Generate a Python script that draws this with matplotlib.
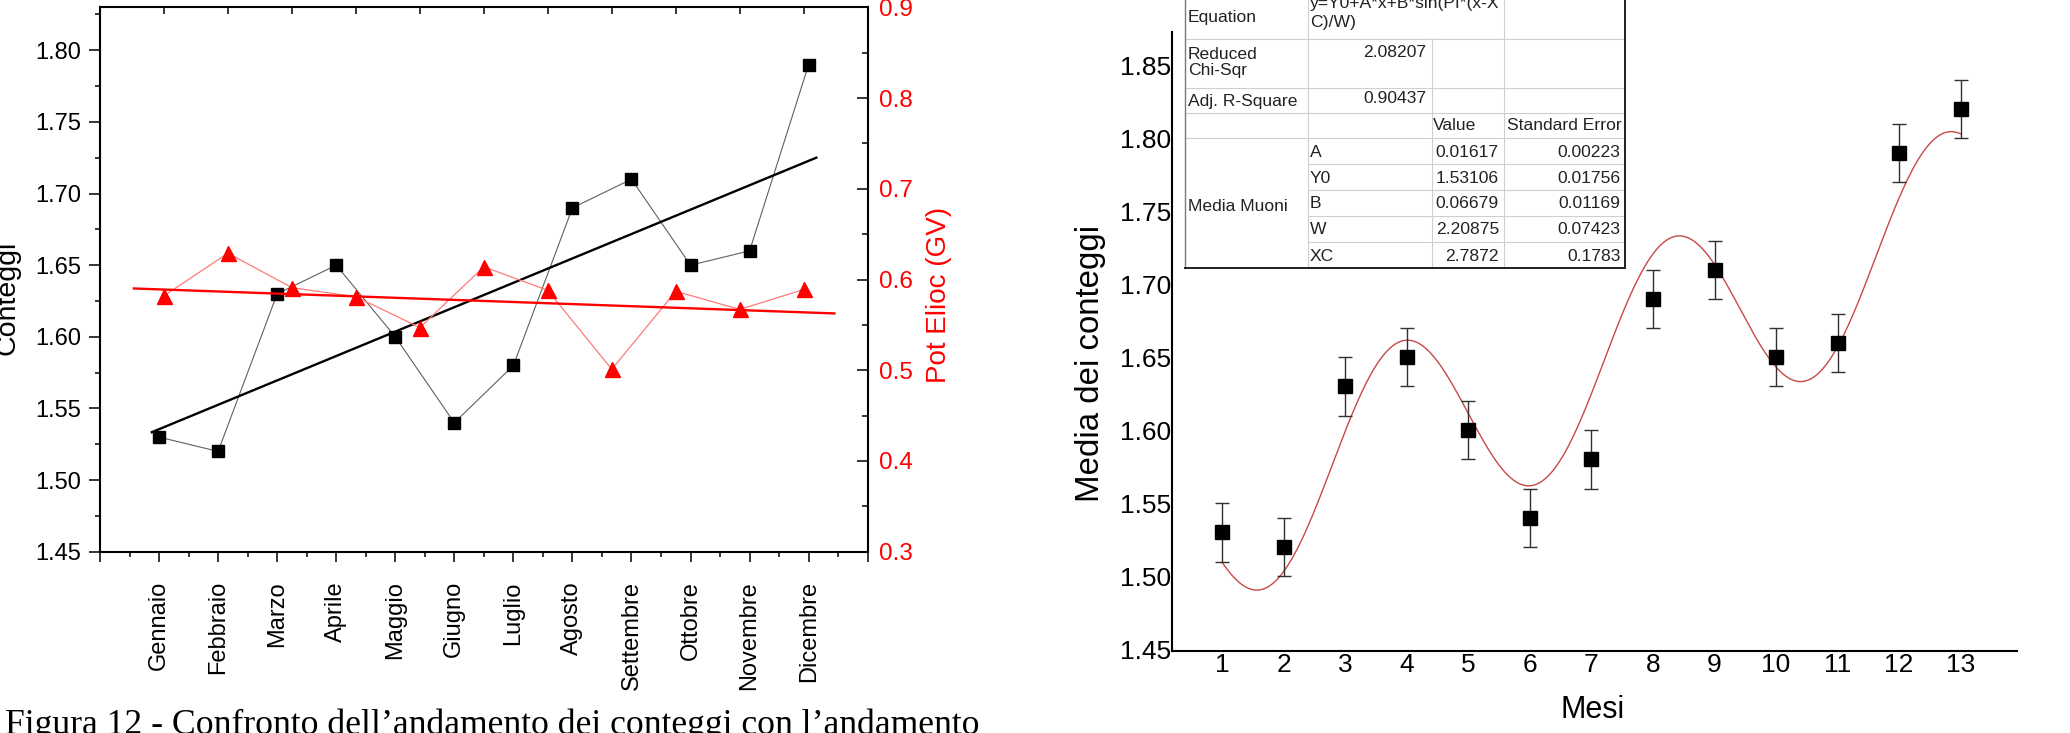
import numpy as np
import matplotlib
matplotlib.use("Agg")
import matplotlib.pyplot as plt
from matplotlib.lines import Line2D
from matplotlib.patches import Rectangle
from matplotlib.ticker import MultipleLocator, FormatStrFormatter

# ---------------- data ----------------
mesi = ['Gennaio', 'Febbraio', 'Marzo', 'Aprile', 'Maggio', 'Giugno', 'Luglio',
        'Agosto', 'Settembre', 'Ottobre', 'Novembre', 'Dicembre']
conteggi = [1.53, 1.52, 1.63, 1.65, 1.60, 1.54, 1.58, 1.69, 1.71, 1.65, 1.66, 1.79]
cont_fit_x = [0.877, 12.13]

pot_elioc = [0.582, 0.629, 0.591, 0.581, 0.547, 0.614, 0.588, 0.501, 0.587, 0.567, 0.589]
pot_fit_x = [0.53, 11.48]
pot_fit_y = [0.5901, 0.5626]

mesi_num = list(range(1, 14))
media = [1.53, 1.52, 1.63, 1.65, 1.60, 1.54, 1.58, 1.69, 1.71, 1.65, 1.66, 1.79, 1.82]
media_err = [0.02] * 13

fit_names = ['A', 'Y0', 'B', 'W', 'XC']
fit_values = [0.01617, 1.53106, 0.06679, 2.20875, 2.7872]
fit_value_text = ['0.01617', '1.53106', '0.06679', '2.20875', '2.7872']
fit_error_text = ['0.00223', '0.01756', '0.01169', '0.07423', '0.1783']
chi_sqr = '2.08207'
adj_r2 = '0.90437'
equation_lines = ['y=Y0+A*x+B*sin(PI*(x-X', 'C)/W)']

caption = 'Figura 12 - Confronto dell\u2019andamento dei conteggi con l\u2019andamento'

# ---------------- figure ----------------
W, H = 2070, 733
plt.rcParams['font.family'] = ['Liberation Sans', 'DejaVu Sans']
fig = plt.figure(figsize=(W / 100, H / 100), dpi=100)
fig.patch.set_facecolor('white')


def fx(px):
    return px / W


def fy(py):
    return 1 - py / H


def rect(x0, y0, x1, y1):
    return [x0 / W, 1 - y1 / H, (x1 - x0) / W, (y1 - y0) / H]


# ================= left chart =================
r_left = rect(100, 7.3, 867.7, 551.7)
ax = fig.add_axes(r_left)
ax.set_xlim(0, 13)
ax.set_ylim(1.45, 1.83)
xm = np.arange(1, len(conteggi) + 1)
ax.plot(xm, conteggi, color='#606060', lw=0.8, zorder=2)
ax.plot(xm, conteggi, ls='none', marker='s', ms=8.8, mfc='black', mec='black', zorder=3)
slope, intercept = np.polyfit(xm, conteggi, 1)
fxs = np.array(cont_fit_x)
ax.plot(fxs, slope * fxs + intercept, color='black', lw=1.7, zorder=2.5)

ax.set_xticks(range(0, 14))
ax.set_xticklabels([''] + mesi + [''], rotation=90)
ax.set_xticks(np.arange(0.5, 13, 1), minor=True)
ax.yaxis.set_major_locator(MultipleLocator(0.05))
ax.yaxis.set_minor_locator(MultipleLocator(0.025))
ax.yaxis.set_major_formatter(FormatStrFormatter('%.2f'))
ax.tick_params(axis='x', which='major', direction='out', length=7.2, width=1.1,
               pad=14, labelsize=17)
ax.tick_params(axis='x', which='minor', direction='out', length=3.3, width=1.1)
ax.tick_params(axis='y', which='major', direction='out', length=7.6, width=1.1,
               pad=6, labelsize=17)
ax.tick_params(axis='y', which='minor', direction='out', length=3.8, width=1.1)
for s in ax.spines.values():
    s.set_linewidth(1.5)

ax2 = fig.add_axes(r_left, label='pot')
ax2.patch.set_visible(False)
for s in ax2.spines.values():
    s.set_visible(False)
ax2.set_xlim(0, 12)
ax2.set_ylim(0.3, 0.9)
xr = np.arange(1, len(pot_elioc) + 1)
ax2.plot(xr, pot_elioc, color='#ff7a7a', lw=0.9, zorder=2)
ax2.plot(xr, pot_elioc, ls='none', marker='^', ms=10.8, mfc='red', mec='red', zorder=3)
ax2.plot(pot_fit_x, pot_fit_y, color='red', lw=1.7, zorder=2.5)
ax2.xaxis.tick_top()
ax2.set_xticks(range(1, 12))
ax2.set_xticklabels([])
ax2.yaxis.tick_right()
ax2.yaxis.set_major_locator(MultipleLocator(0.1))
ax2.yaxis.set_minor_locator(MultipleLocator(0.05))
ax2.yaxis.set_major_formatter(FormatStrFormatter('%.1f'))
ax2.tick_params(axis='x', which='major', direction='in', length=5, width=1.1)
ax2.tick_params(axis='y', which='major', direction='in', length=8, width=1.1,
                pad=8.4, labelsize=17.5, labelcolor='red')
ax2.tick_params(axis='y', which='minor', direction='in', length=4.3, width=1.1)

fig.text(fx(15), fy(298), 'Conteggi', rotation=90, rotation_mode='anchor',
         ha='center', va='baseline', fontsize=20.5)
fig.text(fx(946), fy(295), 'Pot Elioc (GV)', rotation=90, rotation_mode='anchor',
         ha='center', va='baseline', fontsize=20, color='red')

# ================= right chart =================
ax3 = fig.add_axes(rect(1172, 31.8, 2016.7, 650.7))
ax3.set_xlim(0.185, 13.91)
ax3.set_ylim(1.449, 1.873)
ax3.spines['top'].set_visible(False)
ax3.spines['right'].set_visible(False)
ax3.spines['left'].set_linewidth(1.5)
ax3.spines['bottom'].set_linewidth(1.5)
ax3.set_xticks(mesi_num)
ax3.yaxis.set_major_locator(MultipleLocator(0.05))
ax3.yaxis.set_major_formatter(FormatStrFormatter('%.2f'))
ax3.tick_params(axis='both', length=0, labelsize=19)
ax3.tick_params(axis='x', pad=2)
ax3.tick_params(axis='y', pad=0.6)

A, Y0, B, Wp, XC = fit_values
xs = np.linspace(mesi_num[0], mesi_num[-1], 500)
ys = Y0 + A * xs + B * np.sin(np.pi * (xs - XC) / Wp)
ax3.plot(xs, ys, color='#c84848', lw=1.0, zorder=2)
ax3.errorbar(mesi_num, media, yerr=media_err, fmt='s', ms=10.6, mfc='black', mec='black',
             ecolor='#303030', elinewidth=1.0, capsize=4.7, capthick=1.0, zorder=3)

fig.text(fx(1099), fy(363.3), 'Media dei conteggi', rotation=90, rotation_mode='anchor',
         ha='center', va='baseline', fontsize=23.8)
fig.text(fx(1593), fy(717.6), 'Mesi', ha='center', va='baseline', fontsize=22)

# ---------------- fit table ----------------
tx0, tx1, tx2, tx3, tx4 = 1185.3, 1308.3, 1431.8, 1504.2, 1625.0
row_lines = [39.0, 87.7, 113.3, 138.3, 164.3, 190.0, 216.0, 242.3]
t_bottom = 267.9
fig.add_artist(Rectangle((fx(tx0), fy(t_bottom)), (tx4 - tx0) / W, t_bottom / H,
                         transform=fig.transFigure, facecolor='white', edgecolor='none',
                         zorder=1.5))


def hline(y, x0, x1, color='#cfcfcf', lw=0.8):
    fig.add_artist(Line2D([fx(x0), fx(x1)], [fy(y), fy(y)], transform=fig.transFigure,
                          color=color, lw=lw, zorder=2))


def vline(x, y0, y1, color='#cfcfcf', lw=0.8):
    fig.add_artist(Line2D([fx(x), fx(x)], [fy(y0), fy(y1)], transform=fig.transFigure,
                          color=color, lw=lw, zorder=2))


for i, y in enumerate(row_lines):
    if i >= 4:
        hline(y, tx1, tx4)
    else:
        hline(y, tx0, tx4)
vline(tx1, 0, t_bottom)
vline(tx2, row_lines[0], t_bottom)
vline(tx3, 0, t_bottom)
vline(tx0, 0, t_bottom, color='#7a7a7a', lw=1.0)
vline(tx4, 0, t_bottom, color='#202020', lw=1.4)
hline(t_bottom, tx0, tx4, color='#202020', lw=1.4)

tcol = '#222222'
tfs = 12.6


def ttext(x, y, s, ha='left'):
    fig.text(fx(x), fy(y), s, ha=ha, va='baseline', fontsize=tfs, color=tcol, zorder=3)


ttext(1188, 21.7, 'Equation')
ttext(1310, 8.3, equation_lines[0])
ttext(1310, 27.3, equation_lines[1])
ttext(1188, 59.3, 'Reduced')
ttext(1188, 75.0, 'Chi-Sqr')
ttext(1426.7, 56.7, chi_sqr, ha='right')
ttext(1188, 106.0, 'Adj. R-Square')
ttext(1426.7, 103.3, adj_r2, ha='right')
ttext(1433.3, 130.0, 'Value')
ttext(1507.3, 130.0, 'Standard Error')
row_base = [156.7, 182.7, 208.3, 234.3, 260.7]
for name, v, e, yb in zip(fit_names, fit_value_text, fit_error_text, row_base):
    ttext(1310, yb, name)
    ttext(1499, yb, v, ha='right')
    ttext(1620.7, yb, e, ha='right')
ttext(1188, 211.0, 'Media Muoni')

# ---------------- caption ----------------
fig.text(fx(5), fy(734), caption, ha='left', va='baseline', fontsize=25.7,
         family=['Liberation Serif', 'DejaVu Serif'], color='black')

fig.savefig('out.png', dpi=100, facecolor='white')
